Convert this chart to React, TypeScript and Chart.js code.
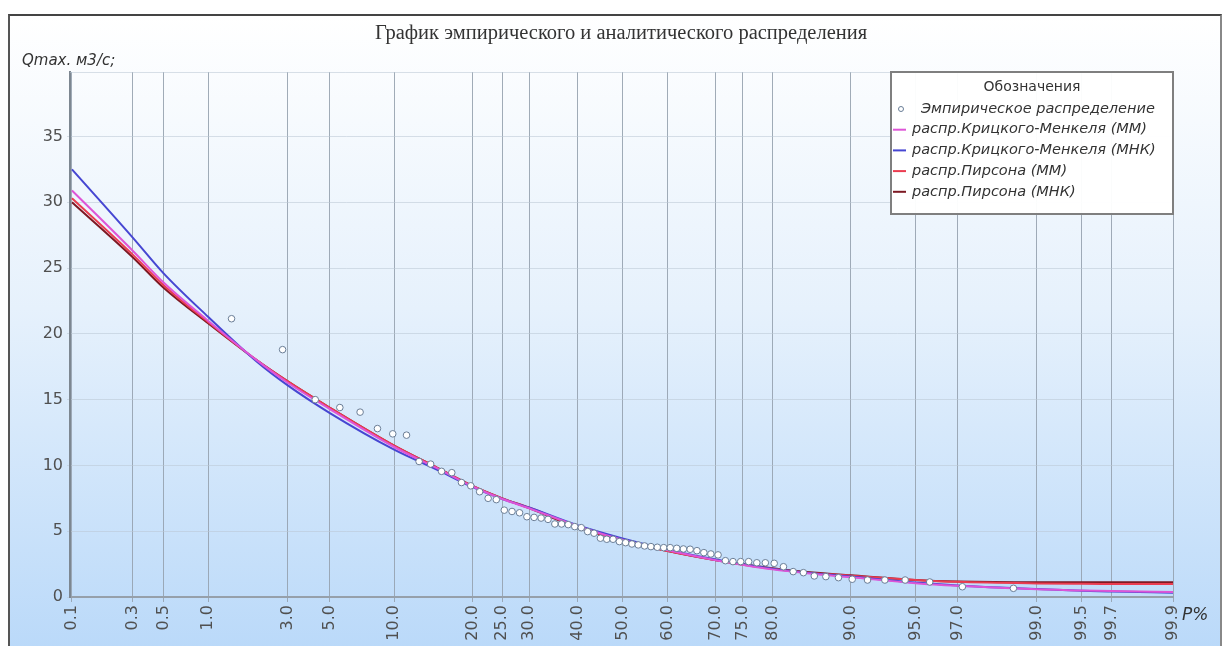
import React, { useEffect, useRef } from "react";
import { Chart, registerables } from "chart.js";

Chart.register(...registerables);

const chartTitle = "График эмпирического и аналитического распределения";
const yAxisTitle = "Qmax. м3/с;";
const xAxisTitle = "P%";
const legendTitle = "Обозначения";

const xTickProbs = [0.1, 0.3, 0.5, 1.0, 3.0, 5.0, 10.0, 20.0, 25.0, 30.0, 40.0, 50.0, 60.0, 70.0, 75.0, 80.0, 90.0, 95.0, 97.0, 99.0, 99.5, 99.7, 99.9];
const xTickLabels = ["0.1", "0.3", "0.5", "1.0", "3.0", "5.0", "10.0", "20.0", "25.0", "30.0", "40.0", "50.0", "60.0", "70.0", "75.0", "80.0", "90.0", "95.0", "97.0", "99.0", "99.5", "99.7", "99.9"];
const yTicks = [0, 5, 10, 15, 20, 25, 30, 35];
const yMax = 39.9;

const empiricalP = [1.41, 2.82, 4.23, 5.63, 7.04, 8.45, 9.86, 11.27, 12.68, 14.08, 15.49, 16.90, 18.31, 19.72, 21.13, 22.54, 23.94, 25.35, 26.76, 28.17, 29.58, 30.99, 32.39, 33.80, 35.21, 36.62, 38.03, 39.44, 40.85, 42.25, 43.66, 45.07, 46.48, 47.89, 49.30, 50.70, 52.11, 53.52, 54.93, 56.34, 57.75, 59.15, 60.56, 61.97, 63.38, 64.79, 66.20, 67.61, 69.01, 70.42, 71.83, 73.24, 74.65, 76.06, 77.46, 78.87, 80.28, 81.69, 83.10, 84.51, 85.92, 87.32, 88.73, 90.14, 91.55, 92.96, 94.37, 95.77, 97.18, 98.59];
const empiricalQ = [21.15, 18.8, 15.0, 14.4, 14.05, 12.8, 12.4, 12.3, 10.3, 10.1, 9.55, 9.45, 8.7, 8.45, 8.0, 7.5, 7.4, 6.6, 6.5, 6.4, 6.1, 6.05, 6.0, 5.9, 5.55, 5.55, 5.5, 5.35, 5.27, 4.97, 4.85, 4.47, 4.39, 4.39, 4.21, 4.13, 4.03, 3.96, 3.88, 3.83, 3.78, 3.75, 3.75, 3.7, 3.65, 3.63, 3.52, 3.37, 3.27, 3.2, 2.76, 2.69, 2.69, 2.69, 2.6, 2.6, 2.56, 2.3, 1.93, 1.85, 1.6, 1.55, 1.47, 1.35, 1.29, 1.29, 1.29, 1.14, 0.78, 0.66];

const curveP = [0.1, 0.3, 0.5, 1, 2, 3, 5, 10, 15, 20, 25, 30, 40, 50, 60, 70, 75, 80, 85, 90, 95, 97, 99, 99.5, 99.7, 99.9];
const kritskyMM = [30.9, 26.3, 23.9, 21.0, 18.0, 16.3, 14.3, 11.4, 9.75, 8.4, 7.45, 6.75, 5.4, 4.35, 3.55, 2.8, 2.45, 2.1, 1.8, 1.5, 1.05, 0.85, 0.58, 0.5, 0.45, 0.38];
const kritskyMNK = [32.5, 27.3, 24.6, 21.3, 17.9, 16.1, 14.0, 11.2, 9.65, 8.35, 7.45, 6.8, 5.45, 4.45, 3.6, 2.85, 2.5, 2.15, 1.85, 1.55, 1.1, 0.88, 0.6, 0.48, 0.42, 0.32];
const pearsonMM = [30.3, 26.0, 23.7, 20.9, 18.0, 16.4, 14.4, 11.5, 9.8, 8.45, 7.5, 6.8, 5.35, 4.3, 3.5, 2.8, 2.45, 2.15, 1.85, 1.62, 1.3, 1.15, 1.03, 1.0, 0.99, 0.98];
const pearsonMNK = [30.0, 25.8, 23.5, 20.8, 18.0, 16.4, 14.4, 11.5, 9.8, 8.45, 7.5, 6.75, 5.3, 4.3, 3.5, 2.8, 2.5, 2.18, 1.9, 1.65, 1.3, 1.18, 1.12, 1.12, 1.12, 1.12];

const seriesLabels = [
  "Эмпирическое распределение",
  "распр.Крицкого-Менкеля (ММ)",
  "распр.Крицкого-Менкеля (МНК)",
  "распр.Пирсона (ММ)",
  "распр.Пирсона (МНК)",
];
const seriesColors = ["rgb(105,125,150)", "rgb(222,85,215)", "rgb(70,70,210)", "rgb(235,60,80)", "rgb(125,25,35)"];

// inverse standard normal CDF (probability-paper axis transform)
function probit(p: number): number {
  const a = [-3.969683028665376e1, 2.209460984245205e2, -2.759285104469687e2, 1.38357751867269e2, -3.066479806614716e1, 2.506628277459239];
  const b = [-5.447609879822406e1, 1.615858368580409e2, -1.556989798598866e2, 6.680131188771972e1, -1.328068155288572e1];
  const c = [-7.784894002430293e-3, -3.223964580411365e-1, -2.400758277161838, -2.549732539343734, 4.374664141464968, 2.938163982698783];
  const d = [7.784695709041462e-3, 3.224671290700398e-1, 2.445134137142996, 3.754408661907416];
  const pl = 0.02425;
  if (p < pl) {
    const q = Math.sqrt(-2 * Math.log(p));
    return (((((c[0] * q + c[1]) * q + c[2]) * q + c[3]) * q + c[4]) * q + c[5]) / ((((d[0] * q + d[1]) * q + d[2]) * q + d[3]) * q + 1);
  }
  if (p <= 1 - pl) {
    const q = p - 0.5;
    const r = q * q;
    return ((((((a[0] * r + a[1]) * r + a[2]) * r + a[3]) * r + a[4]) * r + a[5]) * q) / (((((b[0] * r + b[1]) * r + b[2]) * r + b[3]) * r + b[4]) * r + 1);
  }
  const q = Math.sqrt(-2 * Math.log(1 - p));
  return -(((((c[0] * q + c[1]) * q + c[2]) * q + c[3]) * q + c[4]) * q + c[5]) / ((((d[0] * q + d[1]) * q + d[2]) * q + d[3]) * q + 1);
}

const SANS = '"DejaVu Sans", Verdana, sans-serif';
const SERIF = '"Liberation Serif", "Times New Roman", serif';

const decorPlugin = {
  id: "decor",
  beforeDatasetsDraw(chart: any) {
    const { ctx, chartArea } = chart;
    ctx.save();
    ctx.strokeStyle = "rgba(185,198,212,0.55)";
    ctx.lineWidth = 1;
    ctx.beginPath();
    ctx.moveTo(chartArea.left, chartArea.top + 0.5);
    ctx.lineTo(chartArea.right, chartArea.top + 0.5);
    ctx.stroke();
    ctx.restore();
  },
  afterDraw(chart: any) {
    const ctx = chart.ctx;
    ctx.save();
    ctx.fillStyle = "#333";
    ctx.textBaseline = "middle";
    ctx.textAlign = "center";
    ctx.font = `20.5px ${SERIF}`;
    ctx.fillText(chartTitle, 621, 34);

    ctx.textAlign = "left";
    ctx.font = `italic 15px ${SANS}`;
    ctx.fillText(yAxisTitle, 22, 61);

    ctx.font = `italic 17px ${SANS}`;
    ctx.fillText(xAxisTitle, 1182, 616);

    // legend box
    const bx = 891, by = 72, bw = 282, bh = 142;
    ctx.fillStyle = "rgba(255,255,255,0.97)";
    ctx.fillRect(bx, by, bw, bh);
    ctx.strokeStyle = "#7f7f7f";
    ctx.lineWidth = 2;
    ctx.strokeRect(bx, by, bw, bh);

    ctx.fillStyle = "#333";
    ctx.textAlign = "center";
    ctx.font = `14px ${SANS}`;
    ctx.fillText(legendTitle, bx + bw / 2, by + 15);

    ctx.textAlign = "left";
    ctx.font = `italic 14.5px ${SANS}`;
    seriesLabels.forEach((lab, i) => {
      const y = by + 37 + i * 20.7;
      if (i === 0) {
        ctx.beginPath();
        ctx.arc(901, y, 2.5, 0, Math.PI * 2);
        ctx.fillStyle = "#fff";
        ctx.fill();
        ctx.strokeStyle = seriesColors[0];
        ctx.lineWidth = 1;
        ctx.stroke();
      } else {
        ctx.beginPath();
        ctx.moveTo(893, y);
        ctx.lineTo(906, y);
        ctx.strokeStyle = seriesColors[i];
        ctx.lineWidth = 2;
        ctx.stroke();
      }
      ctx.fillStyle = "#333";
      ctx.fillText(lab, i === 0 ? 921 : 912, y);
    });
    ctx.restore();
  },
};

export default function App() {
  const canvasRef = useRef<HTMLCanvasElement | null>(null);

  useEffect(() => {
    if (!canvasRef.current) return;
    const curves = [kritskyMM, kritskyMNK, pearsonMM, pearsonMNK];
    const datasets: any[] = [
      {
        label: seriesLabels[0],
        data: empiricalP.map((p, i) => ({ x: probit(p / 100), y: empiricalQ[i] })),
        showLine: false,
        pointRadius: 3.3,
        pointBorderWidth: 1,
        pointBorderColor: seriesColors[0],
        pointBackgroundColor: "#ffffff",
      },
      ...curves.map((vals, k) => ({
        label: seriesLabels[k + 1],
        data: curveP.map((p, i) => ({ x: probit(p / 100), y: vals[i] })),
        showLine: true,
        borderColor: seriesColors[k + 1],
        backgroundColor: seriesColors[k + 1],
        borderWidth: 2,
        pointRadius: 0,
        cubicInterpolationMode: "monotone",
      })),
    ];

    const chart = new Chart(canvasRef.current, {
      type: "scatter",
      data: { datasets },
      plugins: [decorPlugin],
      options: {
        animation: false,
        responsive: false,
        devicePixelRatio: 1,
        layout: { padding: { left: 0, right: 54, top: 72, bottom: 0 } },
        plugins: {
          legend: { display: false },
          tooltip: { enabled: false },
          title: { display: false },
        },
        scales: {
          x: {
            type: "linear",
            min: probit(0.001) - 0.011,
            max: probit(0.999),
            afterBuildTicks: (scale: any) => {
              scale.ticks = xTickProbs.map((p) => ({ value: probit(p / 100) }));
            },
            afterFit: (scale: any) => {
              scale.height = 49;
            },
            ticks: {
              autoSkip: false,
              minRotation: 90,
              maxRotation: 90,
              padding: 3,
              color: "#505050",
              font: { family: SANS, size: 16 },
              callback: (_v: any, i: number) => xTickLabels[i],
            },
            grid: { color: "rgba(150,162,175,0.9)", lineWidth: 1, tickLength: 5 },
            border: { color: "rgb(150,160,170)", width: 2 },
          },
          y: {
            type: "linear",
            min: 0,
            max: yMax,
            afterBuildTicks: (scale: any) => {
              scale.ticks = yTicks.map((v) => ({ value: v }));
            },
            afterFit: (scale: any) => {
              scale.width = 70;
            },
            ticks: {
              padding: 4,
              color: "#505050",
              font: { family: SANS, size: 16 },
              callback: (v: any) => String(v),
            },
            grid: { color: "rgba(185,198,212,0.55)", lineWidth: 1, tickLength: 3 },
            border: { color: "rgb(125,135,145)", width: 2 },
          },
        },
      } as any,
    });
    return () => chart.destroy();
  }, []);

  return (
    <div
      style={{
        position: "fixed",
        left: 0,
        top: 0,
        width: 1227,
        height: 646,
        background: "#ffffff",
        overflow: "hidden",
      }}
    >
      <div
        style={{
          position: "absolute",
          left: 8,
          top: 14,
          width: 1210,
          height: 650,
          borderTop: "2px solid #444",
          borderLeft: "2px solid #555",
          borderRight: "2px solid #888",
          background: "linear-gradient(to bottom, #ffffff 0%, #e6f1fc 45%, #b8d8f9 100%)",
        }}
      />
      <canvas
        ref={canvasRef}
        width={1227}
        height={646}
        style={{ position: "absolute", left: 0, top: 0, width: 1227, height: 646 }}
      />
    </div>
  );
}
